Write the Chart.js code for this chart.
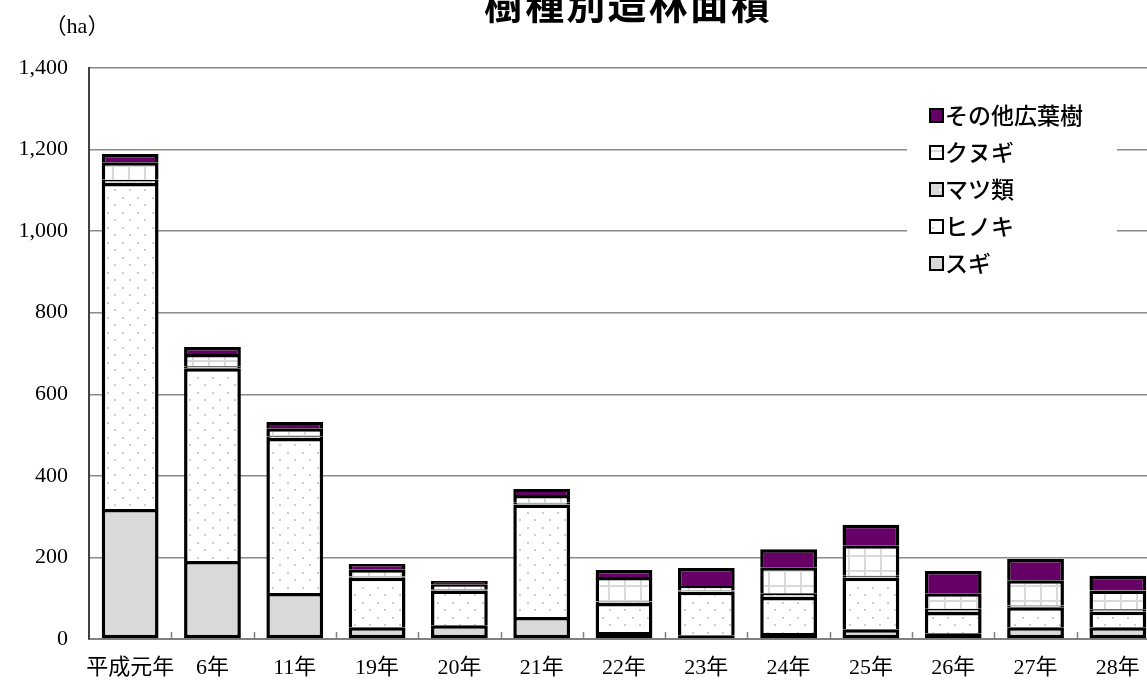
<!DOCTYPE html>
<html>
<head>
<meta charset="utf-8">
<script src="https://cdn.jsdelivr.net/npm/chart.js@4/dist/chart.umd.min.js"></script>
<style>
html,body{margin:0;padding:0;background:#fff;overflow:hidden;width:1147px;height:684px;}
canvas{display:block;}
</style>
</head>
<body>
<canvas id="c" width="1170" height="684"></canvas>
<script>
const titleText = '樹種別造林面積';
const unitText = '（ha）';
const categories = ['平成元年','6年','11年','19年','20年','21年','22年','23年','24年','25年','26年','27年','28年'];
const seriesNames = ['スギ','ヒノキ','マツ類','クヌギ','その他広葉樹'];
const sugi   = [319,191,113,29,34,54,17,9,15,24,14,29,29];
const hinoki = [799,473,380,121,85,276,71,107,88,126,52,49,38];
const matsu  = [8,5,4,3,3,4,4,3,9,5,8,4,6];
const kunugi = [43,30,20,18,12,19,60,11,64,75,38,62,46];
const sonota = [20,17,15,13,8,15,17,44,44,50,55,52,36];
const yTicks = [0,200,400,600,800,1000,1200,1400];

function makePattern(bg, draw, w, h){
  const p = document.createElement('canvas');
  p.width = w; p.height = h;
  const g = p.getContext('2d');
  g.fillStyle = bg; g.fillRect(0,0,w,h);
  draw(g);
  return document.createElement('canvas').getContext('2d').createPattern(p,'repeat');
}
const dotPat = makePattern('#ffffff', g=>{g.fillStyle='#cdcdcd';g.fillRect(2,2,2,2);g.fillRect(9,9,2,2);},15,15);
const matsuPat = makePattern('#d9d9d9', g=>{g.fillStyle='#f4f4f4';g.fillRect(2,2,2,2);g.fillRect(9,9,2,2);},15,15);
const gridPat = makePattern('#ffffff', g=>{g.fillStyle='#d9d9d9';g.fillRect(0,0,2,15);g.fillRect(0,0,16,2);},16,15);

const fills = ['#d9d9d9', dotPat, matsuPat, gridPat, '#660066'];
const values = [sugi, hinoki, matsu, kunugi, sonota];

const datasets = seriesNames.map((n,i)=>({
  label: n,
  data: values[i],
  backgroundColor: fills[i],
  borderColor: '#000000',
  borderWidth: {top:3.5, left:3.5, right:3.5, bottom: i===0 ? 3.5 : 0},
  borderSkipped: false,
  barPercentage: 0.69,
  categoryPercentage: 1.0
}));

const serif = "'Liberation Serif', 'Noto Sans CJK JP', serif";
const sans = "'Noto Sans CJK JP', sans-serif";

const decor = {
  id: 'decor',
  beforeDatasetsDraw(chart){
    const ctx = chart.ctx, xs = chart.scales.x, ca = chart.chartArea;
    ctx.save();
    ctx.strokeStyle = '#808080'; ctx.lineWidth = 1.5;
    for (let i=0;i<categories.length-1;i++){
      const x = Math.round((xs.getPixelForTick(i)+xs.getPixelForTick(i+1))/2)+0.5;
      ctx.beginPath(); ctx.moveTo(x, ca.bottom); ctx.lineTo(x, ca.bottom-7); ctx.stroke();
    }
    ctx.restore();
  },
  afterDraw(chart){
    const ctx = chart.ctx;
    ctx.save();
    // title
    ctx.fillStyle = '#000';
    ctx.font = "bold 39px " + sans;
    ctx.textAlign = 'left'; ctx.textBaseline = 'alphabetic';
    const chars = Array.from(titleText);
    let wsum = 0; chars.forEach(c=>wsum+=ctx.measureText(c).width);
    const totalW = 286;
    const gap = (totalW - wsum)/(chars.length-1);
    let x = 627 - totalW/2;
    chars.forEach(c=>{ ctx.fillText(c, x, 19); x += ctx.measureText(c).width + gap; });
    // unit
    ctx.font = "22px " + serif;
    ctx.textAlign = 'center'; ctx.textBaseline = 'middle';
    ctx.fillText(unitText, 77, 27);
    // legend
    ctx.fillStyle = '#ffffff';
    ctx.fillRect(907, 92, 210, 192);
    const ds = chart.data.datasets;
    ctx.font = "500 23px " + sans;
    ctx.textAlign = 'left'; ctx.textBaseline = 'middle';
    for (let k=0;k<ds.length;k++){
      const d = ds[ds.length-1-k];
      const cy = 115 + k*37;
      ctx.fillStyle = d.backgroundColor;
      ctx.fillRect(930, cy-6, 13, 13);
      ctx.strokeStyle = '#000'; ctx.lineWidth = 2;
      ctx.strokeRect(930, cy-6, 13, 13);
      ctx.fillStyle = '#000';
      ctx.fillText(d.label, 945, cy);
    }
    ctx.restore();
  }
};

new Chart(document.getElementById('c'), {
  type: 'bar',
  data: { labels: categories, datasets },
  options: {
    responsive: false,
    animation: false,
    events: [],
    layout: { padding: { left: 0, right: 11, top: 68, bottom: 0 } },
    plugins: { legend: { display: false }, title: { display: false }, tooltip: { enabled: false } },
    scales: {
      x: {
        stacked: true,
        grid: { display: false, drawTicks: false },
        border: { display: true, color: '#808080', width: 2 },
        ticks: { color: '#000', font: { family: serif, size: 22 }, padding: 16, maxRotation: 0, autoSkip: false },
        afterFit(s){ s.height = 45; }
      },
      y: {
        stacked: true,
        min: 0, max: 1400,
        afterBuildTicks(s){ s.ticks = yTicks.map(v=>({value:v})); },
        grid: { color: '#8a8a8a', lineWidth: 1.5, drawTicks: false },
        border: { display: true, color: '#404040', width: 2 },
        ticks: { color: '#000', font: { family: serif, size: 22 }, padding: 21,
          callback: v => v.toLocaleString('en-US') },
        afterFit(s){ s.width = 89; }
      }
    }
  },
  plugins: [decor]
});
</script>
</body>
</html>
